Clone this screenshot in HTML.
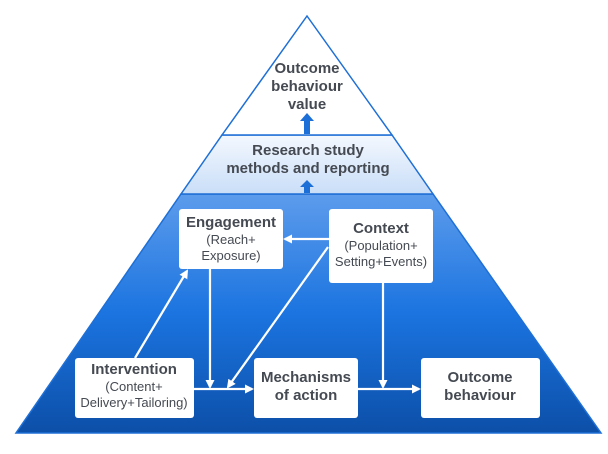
<!DOCTYPE html>
<html><head><style>
body{margin:0;background:#fff;}
svg text{font-family:"Liberation Sans",sans-serif;fill:#454a52;text-anchor:middle;}
.b{font-weight:bold;font-size:15px;}
.n{font-size:13px;}
</style></head><body>
<svg width="608" height="449" viewBox="0 0 608 449" xmlns="http://www.w3.org/2000/svg">
<defs>
<linearGradient id="g1" x1="0" y1="0" x2="0" y2="1">
<stop offset="0" stop-color="#5d9cec"/><stop offset="0.5" stop-color="#1b74e0"/><stop offset="1" stop-color="#0c4fa8"/>
</linearGradient>
<linearGradient id="g2" x1="0" y1="0" x2="0" y2="1">
<stop offset="0" stop-color="#f4f8fe"/><stop offset="1" stop-color="#c9def8"/>
</linearGradient>
<marker id="a" markerWidth="9" markerHeight="9" refX="7" refY="4.5" orient="auto" markerUnits="userSpaceOnUse">
<path d="M0,0 L9,4.5 L0,9 z" fill="#fff"/></marker>
</defs>
<polygon points="181,194 433,194 601,433 16,433" fill="url(#g1)" stroke="#1e6fd6" stroke-width="1.5"/>
<polygon points="222,135 392,135 433,194 181,194" fill="url(#g2)" stroke="#1e6fd6" stroke-width="1.5"/>
<polygon points="307,16 392,135 222,135" fill="#fff" stroke="#1e6fd6" stroke-width="1.5"/>
<path d="M304,134 V121 H300 L307,113 L314,121 H310 V134 z" fill="#1d6fd8"/>
<path d="M304,193 V187 H300 L307,180 L314,187 H310 V193 z" fill="#1d6fd8"/>
<text class="b" x="307" y="73">Outcome</text>
<text class="b" x="307" y="91">behaviour</text>
<text class="b" x="307" y="109">value</text>
<text class="b" x="308" y="155">Research study</text>
<text class="b" x="308" y="173">methods and reporting</text>
<g fill="#fff">
<rect x="179" y="209" width="104" height="60" rx="3"/>
<rect x="329" y="209" width="104" height="74" rx="3"/>
<rect x="75" y="358" width="119" height="60" rx="3"/>
<rect x="254" y="358" width="104" height="60" rx="3"/>
<rect x="421" y="358" width="119" height="60" rx="3"/>
</g>
<text class="b" x="231" y="227">Engagement</text>
<text class="n" x="231" y="244">(Reach+</text>
<text class="n" x="231" y="260">Exposure)</text>
<text class="b" x="381" y="233">Context</text>
<text class="n" x="381" y="250">(Population+</text>
<text class="n" x="381" y="266">Setting+Events)</text>
<text class="b" x="134" y="374">Intervention</text>
<text class="n" x="134" y="391">(Content+</text>
<text class="n" x="134" y="407">Delivery+Tailoring)</text>
<text class="b" x="306" y="382">Mechanisms</text>
<text class="b" x="306" y="400">of action</text>
<text class="b" x="480" y="382">Outcome</text>
<text class="b" x="480" y="400">behaviour</text>
<g stroke="#fff" stroke-width="2.2" fill="none" marker-end="url(#a)">
<line x1="135" y1="358" x2="187" y2="271"/>
<line x1="210" y1="269" x2="210" y2="387"/>
<line x1="329" y1="239" x2="285" y2="239"/>
<line x1="328" y1="247" x2="228" y2="387"/>
<line x1="383" y1="283" x2="383" y2="387"/>
<line x1="194" y1="389" x2="252" y2="389"/>
<line x1="358" y1="389" x2="419" y2="389"/>
</g>
</svg>
</body></html>
